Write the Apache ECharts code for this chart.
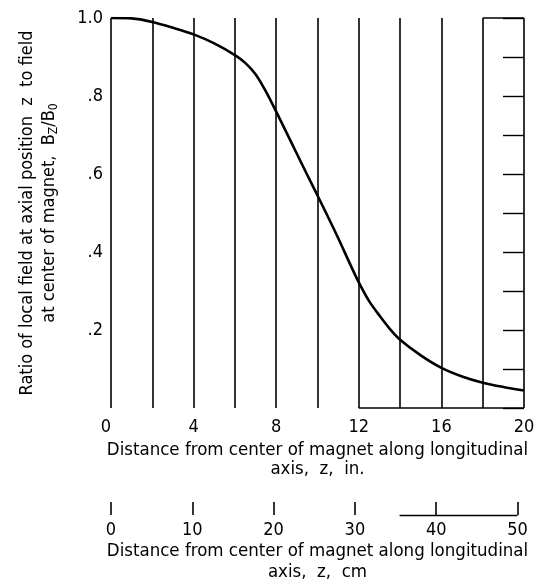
<!DOCTYPE html>
<html><head><meta charset="utf-8">
<script src="https://cdn.jsdelivr.net/npm/echarts@6/dist/echarts.min.js"></script>
<style>html,body{margin:0;padding:0;background:#fff}#c{width:536px;height:588px}</style>
</head><body><div id="c"></div>
<script>
// Axial distance from magnet center, inches
const zInches = [0, 1, 2, 3, 4, 5, 6, 6.5, 7, 7.5, 8, 8.5, 9, 9.5, 10, 10.5, 11, 11.5, 12, 12.5, 13, 13.5, 14, 15, 16, 17, 18, 19, 20];
// Ratio Bz/B0
const fieldRatio = [1.000, 0.999, 0.990, 0.975, 0.958, 0.935, 0.905, 0.885, 0.856, 0.812, 0.760, 0.706, 0.652, 0.598, 0.545, 0.491, 0.436, 0.378, 0.322, 0.274, 0.237, 0.203, 0.175, 0.135, 0.103, 0.081, 0.065, 0.054, 0.045];
// Tick labels
const inchLabels = [0, 4, 8, 12, 16, 20];
const ratioLabels = ['', '.2', '.4', '.6', '.8', '1.0'];
const cmLabels = [0, 10, 20, 30, 40, 50];
const CM_PER_IN = 2.54;

const FONT = "'Liberation Sans Narrow', 'DejaVu Sans Condensed', 'Roboto', sans-serif";
const chart = echarts.init(document.getElementById('c'), null, {renderer: 'canvas'});

const option = {
  backgroundColor: '#fff',
  animation: false,
  textStyle: {fontFamily: FONT, color: '#000'},
  grid: [
    {left: 111, right: 12, top: 18, bottom: 180, outerBoundsMode: 'none', containLabel: false},
    {left: 111, right: 12, top: 495, height: 20, outerBoundsMode: 'none', containLabel: false}
  ],
  xAxis: [
    {
      gridIndex: 0, type: 'value', min: 0, max: 20, interval: 2,
      axisLine: {show: false}, axisTick: {show: false},
      splitLine: {show: true, lineStyle: {color: '#000', width: 1.6}},
      axisLabel: {
        color: '#000', fontFamily: FONT, fontSize: 18, margin: 10,
        alignMinLabel: 'right',
        formatter: v => inchLabels.indexOf(v) >= 0 ? String(v) : ''
      },
      name: 'Distance from center of magnet along longitudinal\naxis,  z,  in.',
      nameLocation: 'middle', nameGap: 27,
      nameTextStyle: {color: '#000', fontFamily: FONT, fontSize: 18.5, lineHeight: 19}
    },
    {
      gridIndex: 1, type: 'value', min: 0, max: 20 * CM_PER_IN, interval: 10,
      axisLine: {show: false},
      axisTick: {show: true, inside: true, length: 13, customValues: cmLabels, lineStyle: {color: '#000', width: 1.6}},
      splitLine: {show: false},
      axisLabel: {
        color: '#000', fontFamily: FONT, fontSize: 18, margin: 6,
        customValues: cmLabels,
        formatter: v => String(v)
      },
      name: 'Distance from center of magnet along longitudinal\naxis,  z,  cm',
      nameLocation: 'middle', nameGap: 26,
      nameTextStyle: {color: '#000', fontFamily: FONT, fontSize: 18.5, lineHeight: 21}
    }
  ],
  yAxis: [
    {
      gridIndex: 0, type: 'value', min: 0, max: 1, interval: 0.2,
      axisLine: {show: false}, axisTick: {show: false}, splitLine: {show: false},
      axisLabel: {
        color: '#000', fontFamily: FONT, fontSize: 18, margin: 8,
        formatter: v => ratioLabels[Math.round(v * 5)]
      },
      name: 'Ratio of local field at axial position  z  to field\nat center of magnet,  B{sub|Z}/B{sub|0}',
      nameLocation: 'middle', nameGap: 51, nameRotate: 90,
      nameTextStyle: {
        color: '#000', fontFamily: FONT, fontSize: 18, lineHeight: 22,
        rich: {sub: {fontFamily: FONT, fontSize: 12, color: '#000', lineHeight: 22, verticalAlign: 'bottom'}}
      }
    },
    {
      gridIndex: 0, type: 'value', position: 'right', min: 0, max: 1, interval: 0.1,
      axisLine: {show: false}, splitLine: {show: false}, axisLabel: {show: false},
      axisTick: {show: true, inside: true, length: 21, lineStyle: {color: '#000', width: 1.4}}
    },
    {
      gridIndex: 1, type: 'value', min: 0, max: 1, show: false
    }
  ],
  series: [
    {
      type: 'line', xAxisIndex: 0, yAxisIndex: 0,
      data: zInches.map((z, i) => [z, fieldRatio[i]]),
      smooth: 0.3, symbol: 'none',
      lineStyle: {color: '#000', width: 2.6},
      markLine: {
        silent: true, symbol: 'none', label: {show: false},
        lineStyle: {color: '#000', width: 1.6, type: 'solid'},
        data: [
          [{coord: [12, 0]}, {coord: [20, 0]}],
          [{coord: [18, 1]}, {coord: [20, 1]}]
        ]
      }
    },
    {
      type: 'line', xAxisIndex: 1, yAxisIndex: 2,
      data: [], symbol: 'none',
      markLine: {
        silent: true, symbol: 'none', label: {show: false},
        lineStyle: {color: '#000', width: 1.4, type: 'solid'},
        data: [
          [{coord: [35.5, 0]}, {coord: [50, 0]}]
        ]
      }
    }
  ]
};
chart.setOption(option);
</script>
</body></html>
